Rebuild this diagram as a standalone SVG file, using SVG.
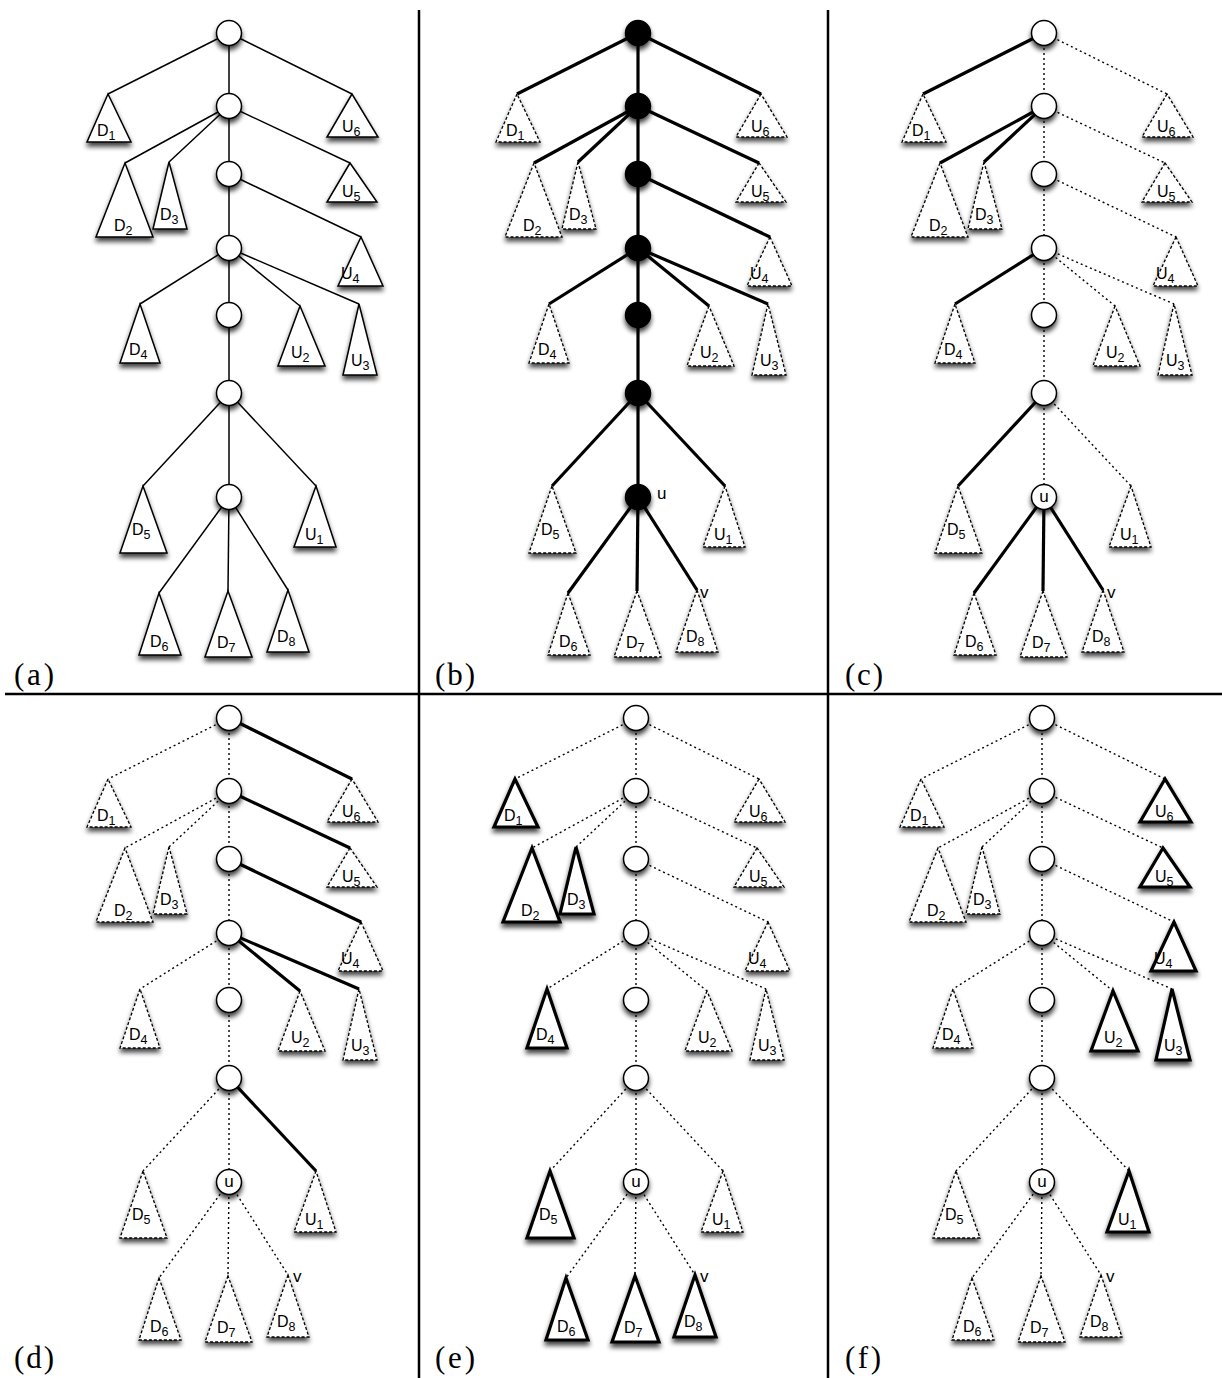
<svg xmlns="http://www.w3.org/2000/svg" width="1222" height="1378" viewBox="0 0 1222 1378">
<defs>
<filter id="sh" x="-40%" y="-40%" width="180%" height="190%">
<feGaussianBlur in="SourceAlpha" stdDeviation="2.5"/>
<feOffset dy="4" result="o"/>
<feComponentTransfer><feFuncA type="linear" slope="0.75"/></feComponentTransfer>
<feMerge><feMergeNode/><feMergeNode in="SourceGraphic"/></feMerge>
</filter>
</defs>
<style>
line{stroke:#000;fill:none;stroke-linecap:butt}
.t{stroke-width:1.5}
.k{stroke-width:3.2}
.d{stroke-width:1.4;stroke-dasharray:2 3}
.tr{fill:#fff;stroke:#000;stroke-width:1.5}
.trd{fill:#fff;stroke:#000;stroke-width:1.3;stroke-dasharray:3 2}
.trk{fill:#fff;stroke:#000;stroke-width:3.2}
.cw{fill:#fff;stroke:#000;stroke-width:1.5}
.cb{fill:#000;stroke:#000;stroke-width:1.5}
text{font-family:"Liberation Sans",Arial,sans-serif;font-size:16px;fill:#000}
.sb{font-size:12.5px}
.uv{font-size:17px}
.pl{font-family:"Liberation Serif","Times New Roman",serif;font-size:31px}
.dv{stroke:#000;stroke-width:2.5}
</style>
<rect width="1222" height="1378" fill="#fff"/>

<g id="dividers">
<line class="dv" x1="419" y1="10" x2="419" y2="1378"/>
<line class="dv" x1="828" y1="10" x2="828" y2="1378"/>
<line class="dv" x1="5" y1="694" x2="1222" y2="694"/>
</g>

<g id="panel-labels">
<text class="pl" x="14" y="685" textLength="40">(a)</text>
<text class="pl" x="435" y="685" textLength="40">(b)</text>
<text class="pl" x="845" y="685" textLength="38">(c)</text>
<text class="pl" x="14" y="1368" textLength="40">(d)</text>
<text class="pl" x="435" y="1368" textLength="40">(e)</text>
<text class="pl" x="845" y="1368" textLength="36">(f)</text>
</g>

<!-- Panel (a) -->
<g id="panel-a">
<g id="a-connectors">
<line class="t" x1="229" y1="33" x2="229" y2="106"/>
<line class="t" x1="229" y1="33" x2="108" y2="94"/>
<line class="t" x1="229" y1="33" x2="352" y2="94"/>
<line class="t" x1="229" y1="106" x2="229" y2="174"/>
<line class="t" x1="229" y1="106" x2="125" y2="163"/>
<line class="t" x1="229" y1="106" x2="169" y2="162"/>
<line class="t" x1="229" y1="106" x2="350" y2="163"/>
<line class="t" x1="229" y1="174" x2="229" y2="248"/>
<line class="t" x1="229" y1="174" x2="361" y2="237"/>
<line class="t" x1="229" y1="248" x2="229" y2="315"/>
<line class="t" x1="229" y1="248" x2="140" y2="304"/>
<line class="t" x1="229" y1="248" x2="300" y2="306"/>
<line class="t" x1="229" y1="248" x2="359" y2="304"/>
<line class="t" x1="229" y1="315" x2="229" y2="393"/>
<line class="t" x1="229" y1="393" x2="229" y2="497"/>
<line class="t" x1="229" y1="393" x2="143" y2="486"/>
<line class="t" x1="229" y1="393" x2="316" y2="486"/>
<line class="t" x1="229" y1="497" x2="159" y2="593"/>
<line class="t" x1="229" y1="497" x2="228" y2="591"/>
<line class="t" x1="229" y1="497" x2="288" y2="590"/>
</g>
<g id="a-D1"><polygon class="tr" filter="url(#sh)" points="108,94 87,142 131,142"/><text x="97" y="136">D<tspan class="sb" dy="4">1</tspan></text></g>
<g id="a-D2"><polygon class="tr" filter="url(#sh)" points="125,163 96,237 153,237"/><text x="114" y="231">D<tspan class="sb" dy="4">2</tspan></text></g>
<g id="a-D3"><polygon class="tr" filter="url(#sh)" points="169,162 153,229 187,229"/><text x="160" y="220">D<tspan class="sb" dy="4">3</tspan></text></g>
<g id="a-D4"><polygon class="tr" filter="url(#sh)" points="140,304 120,363 160,363"/><text x="129" y="355">D<tspan class="sb" dy="4">4</tspan></text></g>
<g id="a-D5"><polygon class="tr" filter="url(#sh)" points="143,486 120,553 167,553"/><text x="132" y="535">D<tspan class="sb" dy="4">5</tspan></text></g>
<g id="a-D6"><polygon class="tr" filter="url(#sh)" points="159,593 139,655 181,655"/><text x="150" y="647">D<tspan class="sb" dy="4">6</tspan></text></g>
<g id="a-D7"><polygon class="tr" filter="url(#sh)" points="228,591 205,657 252,657"/><text x="217" y="648">D<tspan class="sb" dy="4">7</tspan></text></g>
<g id="a-D8"><polygon class="tr" filter="url(#sh)" points="288,590 267,652 309,652"/><text x="277" y="642">D<tspan class="sb" dy="4">8</tspan></text></g>
<g id="a-U1"><polygon class="tr" filter="url(#sh)" points="316,486 294,547 336,547"/><text x="305" y="540">U<tspan class="sb" dy="4">1</tspan></text></g>
<g id="a-U2"><polygon class="tr" filter="url(#sh)" points="300,306 278,366 325,366"/><text x="291" y="358">U<tspan class="sb" dy="4">2</tspan></text></g>
<g id="a-U3"><polygon class="tr" filter="url(#sh)" points="359,304 343,375 377,375"/><text x="351" y="366">U<tspan class="sb" dy="4">3</tspan></text></g>
<g id="a-U4"><polygon class="tr" filter="url(#sh)" points="361,237 338,286 383,286"/><text x="341" y="279">U<tspan class="sb" dy="4">4</tspan></text></g>
<g id="a-U5"><polygon class="tr" filter="url(#sh)" points="350,163 327,202 377,202"/><text x="342" y="197">U<tspan class="sb" dy="4">5</tspan></text></g>
<g id="a-U6"><polygon class="tr" filter="url(#sh)" points="352,94 327,137 378,137"/><text x="342" y="132">U<tspan class="sb" dy="4">6</tspan></text></g>
<g id="a-n1"><circle class="cw" filter="url(#sh)" cx="229" cy="33" r="12.5"/></g>
<g id="a-n2"><circle class="cw" filter="url(#sh)" cx="229" cy="106" r="12.5"/></g>
<g id="a-n3"><circle class="cw" filter="url(#sh)" cx="229" cy="174" r="12.5"/></g>
<g id="a-n4"><circle class="cw" filter="url(#sh)" cx="229" cy="248" r="12.5"/></g>
<g id="a-n5"><circle class="cw" filter="url(#sh)" cx="229" cy="315" r="12.5"/></g>
<g id="a-n6"><circle class="cw" filter="url(#sh)" cx="229" cy="393" r="12.5"/></g>
<g id="a-n7"><circle class="cw" filter="url(#sh)" cx="229" cy="497" r="12.5"/></g>
</g>

<!-- Panel (b) -->
<g id="panel-b" transform="translate(409,0)">
<g id="b-connectors">
<line class="k" x1="229" y1="33" x2="229" y2="106"/>
<line class="k" x1="229" y1="33" x2="108" y2="94"/>
<line class="k" x1="229" y1="33" x2="352" y2="94"/>
<line class="k" x1="229" y1="106" x2="229" y2="174"/>
<line class="k" x1="229" y1="106" x2="125" y2="163"/>
<line class="k" x1="229" y1="106" x2="169" y2="162"/>
<line class="k" x1="229" y1="106" x2="350" y2="163"/>
<line class="k" x1="229" y1="174" x2="229" y2="248"/>
<line class="k" x1="229" y1="174" x2="361" y2="237"/>
<line class="k" x1="229" y1="248" x2="229" y2="315"/>
<line class="k" x1="229" y1="248" x2="140" y2="304"/>
<line class="k" x1="229" y1="248" x2="300" y2="306"/>
<line class="k" x1="229" y1="248" x2="359" y2="304"/>
<line class="k" x1="229" y1="315" x2="229" y2="393"/>
<line class="k" x1="229" y1="393" x2="229" y2="497"/>
<line class="k" x1="229" y1="393" x2="143" y2="486"/>
<line class="k" x1="229" y1="393" x2="316" y2="486"/>
<line class="k" x1="229" y1="497" x2="159" y2="593"/>
<line class="k" x1="229" y1="497" x2="228" y2="591"/>
<line class="k" x1="229" y1="497" x2="288" y2="590"/>
</g>
<g id="b-D1"><polygon class="trd" filter="url(#sh)" points="108,94 87,142 131,142"/><text x="97" y="136">D<tspan class="sb" dy="4">1</tspan></text></g>
<g id="b-D2"><polygon class="trd" filter="url(#sh)" points="125,163 96,237 153,237"/><text x="114" y="231">D<tspan class="sb" dy="4">2</tspan></text></g>
<g id="b-D3"><polygon class="trd" filter="url(#sh)" points="169,162 153,229 187,229"/><text x="160" y="220">D<tspan class="sb" dy="4">3</tspan></text></g>
<g id="b-D4"><polygon class="trd" filter="url(#sh)" points="140,304 120,363 160,363"/><text x="129" y="355">D<tspan class="sb" dy="4">4</tspan></text></g>
<g id="b-D5"><polygon class="trd" filter="url(#sh)" points="143,486 120,553 167,553"/><text x="132" y="535">D<tspan class="sb" dy="4">5</tspan></text></g>
<g id="b-D6"><polygon class="trd" filter="url(#sh)" points="159,593 139,655 181,655"/><text x="150" y="647">D<tspan class="sb" dy="4">6</tspan></text></g>
<g id="b-D7"><polygon class="trd" filter="url(#sh)" points="228,591 205,657 252,657"/><text x="217" y="648">D<tspan class="sb" dy="4">7</tspan></text></g>
<g id="b-D8"><polygon class="trd" filter="url(#sh)" points="288,590 267,652 309,652"/><text x="277" y="642">D<tspan class="sb" dy="4">8</tspan></text></g>
<g id="b-U1"><polygon class="trd" filter="url(#sh)" points="316,486 294,547 336,547"/><text x="305" y="540">U<tspan class="sb" dy="4">1</tspan></text></g>
<g id="b-U2"><polygon class="trd" filter="url(#sh)" points="300,306 278,366 325,366"/><text x="291" y="358">U<tspan class="sb" dy="4">2</tspan></text></g>
<g id="b-U3"><polygon class="trd" filter="url(#sh)" points="359,304 343,375 377,375"/><text x="351" y="366">U<tspan class="sb" dy="4">3</tspan></text></g>
<g id="b-U4"><polygon class="trd" filter="url(#sh)" points="361,237 338,286 383,286"/><text x="341" y="279">U<tspan class="sb" dy="4">4</tspan></text></g>
<g id="b-U5"><polygon class="trd" filter="url(#sh)" points="350,163 327,202 377,202"/><text x="342" y="197">U<tspan class="sb" dy="4">5</tspan></text></g>
<g id="b-U6"><polygon class="trd" filter="url(#sh)" points="352,94 327,137 378,137"/><text x="342" y="132">U<tspan class="sb" dy="4">6</tspan></text></g>
<g id="b-n1"><circle class="cb" filter="url(#sh)" cx="229" cy="33" r="12.5"/></g>
<g id="b-n2"><circle class="cb" filter="url(#sh)" cx="229" cy="106" r="12.5"/></g>
<g id="b-n3"><circle class="cb" filter="url(#sh)" cx="229" cy="174" r="12.5"/></g>
<g id="b-n4"><circle class="cb" filter="url(#sh)" cx="229" cy="248" r="12.5"/></g>
<g id="b-n5"><circle class="cb" filter="url(#sh)" cx="229" cy="315" r="12.5"/></g>
<g id="b-n6"><circle class="cb" filter="url(#sh)" cx="229" cy="393" r="12.5"/></g>
<g id="b-n7"><circle class="cb" filter="url(#sh)" cx="229" cy="497" r="12.5"/><text class="uv" x="248" y="499">u</text></g>
<g id="b-v"><text class="uv" x="291" y="598">v</text></g>
</g>

<!-- Panel (c) -->
<g id="panel-c" transform="translate(815,0)">
<g id="c-connectors">
<line class="d" x1="229" y1="33" x2="229" y2="106"/>
<line class="k" x1="229" y1="33" x2="108" y2="94"/>
<line class="d" x1="229" y1="33" x2="352" y2="94"/>
<line class="d" x1="229" y1="106" x2="229" y2="174"/>
<line class="k" x1="229" y1="106" x2="125" y2="163"/>
<line class="k" x1="229" y1="106" x2="169" y2="162"/>
<line class="d" x1="229" y1="106" x2="350" y2="163"/>
<line class="d" x1="229" y1="174" x2="229" y2="248"/>
<line class="d" x1="229" y1="174" x2="361" y2="237"/>
<line class="d" x1="229" y1="248" x2="229" y2="315"/>
<line class="k" x1="229" y1="248" x2="140" y2="304"/>
<line class="d" x1="229" y1="248" x2="300" y2="306"/>
<line class="d" x1="229" y1="248" x2="359" y2="304"/>
<line class="d" x1="229" y1="315" x2="229" y2="393"/>
<line class="d" x1="229" y1="393" x2="229" y2="497"/>
<line class="k" x1="229" y1="393" x2="143" y2="486"/>
<line class="d" x1="229" y1="393" x2="316" y2="486"/>
<line class="k" x1="229" y1="497" x2="159" y2="593"/>
<line class="k" x1="229" y1="497" x2="228" y2="591"/>
<line class="k" x1="229" y1="497" x2="288" y2="590"/>
</g>
<g id="c-D1"><polygon class="trd" filter="url(#sh)" points="108,94 87,142 131,142"/><text x="97" y="136">D<tspan class="sb" dy="4">1</tspan></text></g>
<g id="c-D2"><polygon class="trd" filter="url(#sh)" points="125,163 96,237 153,237"/><text x="114" y="231">D<tspan class="sb" dy="4">2</tspan></text></g>
<g id="c-D3"><polygon class="trd" filter="url(#sh)" points="169,162 153,229 187,229"/><text x="160" y="220">D<tspan class="sb" dy="4">3</tspan></text></g>
<g id="c-D4"><polygon class="trd" filter="url(#sh)" points="140,304 120,363 160,363"/><text x="129" y="355">D<tspan class="sb" dy="4">4</tspan></text></g>
<g id="c-D5"><polygon class="trd" filter="url(#sh)" points="143,486 120,553 167,553"/><text x="132" y="535">D<tspan class="sb" dy="4">5</tspan></text></g>
<g id="c-D6"><polygon class="trd" filter="url(#sh)" points="159,593 139,655 181,655"/><text x="150" y="647">D<tspan class="sb" dy="4">6</tspan></text></g>
<g id="c-D7"><polygon class="trd" filter="url(#sh)" points="228,591 205,657 252,657"/><text x="217" y="648">D<tspan class="sb" dy="4">7</tspan></text></g>
<g id="c-D8"><polygon class="trd" filter="url(#sh)" points="288,590 267,652 309,652"/><text x="277" y="642">D<tspan class="sb" dy="4">8</tspan></text></g>
<g id="c-U1"><polygon class="trd" filter="url(#sh)" points="316,486 294,547 336,547"/><text x="305" y="540">U<tspan class="sb" dy="4">1</tspan></text></g>
<g id="c-U2"><polygon class="trd" filter="url(#sh)" points="300,306 278,366 325,366"/><text x="291" y="358">U<tspan class="sb" dy="4">2</tspan></text></g>
<g id="c-U3"><polygon class="trd" filter="url(#sh)" points="359,304 343,375 377,375"/><text x="351" y="366">U<tspan class="sb" dy="4">3</tspan></text></g>
<g id="c-U4"><polygon class="trd" filter="url(#sh)" points="361,237 338,286 383,286"/><text x="341" y="279">U<tspan class="sb" dy="4">4</tspan></text></g>
<g id="c-U5"><polygon class="trd" filter="url(#sh)" points="350,163 327,202 377,202"/><text x="342" y="197">U<tspan class="sb" dy="4">5</tspan></text></g>
<g id="c-U6"><polygon class="trd" filter="url(#sh)" points="352,94 327,137 378,137"/><text x="342" y="132">U<tspan class="sb" dy="4">6</tspan></text></g>
<g id="c-n1"><circle class="cw" filter="url(#sh)" cx="229" cy="33" r="12.5"/></g>
<g id="c-n2"><circle class="cw" filter="url(#sh)" cx="229" cy="106" r="12.5"/></g>
<g id="c-n3"><circle class="cw" filter="url(#sh)" cx="229" cy="174" r="12.5"/></g>
<g id="c-n4"><circle class="cw" filter="url(#sh)" cx="229" cy="248" r="12.5"/></g>
<g id="c-n5"><circle class="cw" filter="url(#sh)" cx="229" cy="315" r="12.5"/></g>
<g id="c-n6"><circle class="cw" filter="url(#sh)" cx="229" cy="393" r="12.5"/></g>
<g id="c-n7"><circle class="cw" filter="url(#sh)" cx="229" cy="497" r="12.5"/><text class="uv" x="229" y="502" text-anchor="middle">u</text></g>
<g id="c-v"><text class="uv" x="292" y="598">v</text></g>
</g>

<!-- Panel (d) -->
<g id="panel-d" transform="translate(0,685)">
<g id="d-connectors">
<line class="d" x1="229" y1="33" x2="229" y2="106"/>
<line class="d" x1="229" y1="33" x2="108" y2="94"/>
<line class="k" x1="229" y1="33" x2="352" y2="94"/>
<line class="d" x1="229" y1="106" x2="229" y2="174"/>
<line class="d" x1="229" y1="106" x2="125" y2="163"/>
<line class="d" x1="229" y1="106" x2="169" y2="162"/>
<line class="k" x1="229" y1="106" x2="350" y2="163"/>
<line class="d" x1="229" y1="174" x2="229" y2="248"/>
<line class="k" x1="229" y1="174" x2="361" y2="237"/>
<line class="d" x1="229" y1="248" x2="229" y2="315"/>
<line class="d" x1="229" y1="248" x2="140" y2="304"/>
<line class="k" x1="229" y1="248" x2="300" y2="306"/>
<line class="k" x1="229" y1="248" x2="359" y2="304"/>
<line class="d" x1="229" y1="315" x2="229" y2="393"/>
<line class="d" x1="229" y1="393" x2="229" y2="497"/>
<line class="d" x1="229" y1="393" x2="143" y2="486"/>
<line class="k" x1="229" y1="393" x2="316" y2="486"/>
<line class="d" x1="229" y1="497" x2="159" y2="593"/>
<line class="d" x1="229" y1="497" x2="228" y2="591"/>
<line class="d" x1="229" y1="497" x2="288" y2="590"/>
</g>
<g id="d-D1"><polygon class="trd" filter="url(#sh)" points="108,94 87,142 131,142"/><text x="97" y="136">D<tspan class="sb" dy="4">1</tspan></text></g>
<g id="d-D2"><polygon class="trd" filter="url(#sh)" points="125,163 96,237 153,237"/><text x="114" y="231">D<tspan class="sb" dy="4">2</tspan></text></g>
<g id="d-D3"><polygon class="trd" filter="url(#sh)" points="169,162 153,229 187,229"/><text x="160" y="220">D<tspan class="sb" dy="4">3</tspan></text></g>
<g id="d-D4"><polygon class="trd" filter="url(#sh)" points="140,304 120,363 160,363"/><text x="129" y="355">D<tspan class="sb" dy="4">4</tspan></text></g>
<g id="d-D5"><polygon class="trd" filter="url(#sh)" points="143,486 120,553 167,553"/><text x="132" y="535">D<tspan class="sb" dy="4">5</tspan></text></g>
<g id="d-D6"><polygon class="trd" filter="url(#sh)" points="159,593 139,655 181,655"/><text x="150" y="647">D<tspan class="sb" dy="4">6</tspan></text></g>
<g id="d-D7"><polygon class="trd" filter="url(#sh)" points="228,591 205,657 252,657"/><text x="217" y="648">D<tspan class="sb" dy="4">7</tspan></text></g>
<g id="d-D8"><polygon class="trd" filter="url(#sh)" points="288,590 267,652 309,652"/><text x="277" y="642">D<tspan class="sb" dy="4">8</tspan></text></g>
<g id="d-U1"><polygon class="trd" filter="url(#sh)" points="316,486 294,547 336,547"/><text x="305" y="540">U<tspan class="sb" dy="4">1</tspan></text></g>
<g id="d-U2"><polygon class="trd" filter="url(#sh)" points="300,306 278,366 325,366"/><text x="291" y="358">U<tspan class="sb" dy="4">2</tspan></text></g>
<g id="d-U3"><polygon class="trd" filter="url(#sh)" points="359,304 343,375 377,375"/><text x="351" y="366">U<tspan class="sb" dy="4">3</tspan></text></g>
<g id="d-U4"><polygon class="trd" filter="url(#sh)" points="361,237 338,286 383,286"/><text x="341" y="279">U<tspan class="sb" dy="4">4</tspan></text></g>
<g id="d-U5"><polygon class="trd" filter="url(#sh)" points="350,163 327,202 377,202"/><text x="342" y="197">U<tspan class="sb" dy="4">5</tspan></text></g>
<g id="d-U6"><polygon class="trd" filter="url(#sh)" points="352,94 327,137 378,137"/><text x="342" y="132">U<tspan class="sb" dy="4">6</tspan></text></g>
<g id="d-n1"><circle class="cw" filter="url(#sh)" cx="229" cy="33" r="12.5"/></g>
<g id="d-n2"><circle class="cw" filter="url(#sh)" cx="229" cy="106" r="12.5"/></g>
<g id="d-n3"><circle class="cw" filter="url(#sh)" cx="229" cy="174" r="12.5"/></g>
<g id="d-n4"><circle class="cw" filter="url(#sh)" cx="229" cy="248" r="12.5"/></g>
<g id="d-n5"><circle class="cw" filter="url(#sh)" cx="229" cy="315" r="12.5"/></g>
<g id="d-n6"><circle class="cw" filter="url(#sh)" cx="229" cy="393" r="12.5"/></g>
<g id="d-n7"><circle class="cw" filter="url(#sh)" cx="229" cy="497" r="12.5"/><text class="uv" x="229" y="502" text-anchor="middle">u</text></g>
<g id="d-v"><text class="uv" x="293" y="597">v</text></g>
</g>

<!-- Panel (e) -->
<g id="panel-e" transform="translate(407,685)">
<g id="e-connectors">
<line class="d" x1="229" y1="33" x2="229" y2="106"/>
<line class="d" x1="229" y1="33" x2="108" y2="94"/>
<line class="d" x1="229" y1="33" x2="352" y2="94"/>
<line class="d" x1="229" y1="106" x2="229" y2="174"/>
<line class="d" x1="229" y1="106" x2="125" y2="163"/>
<line class="d" x1="229" y1="106" x2="169" y2="162"/>
<line class="d" x1="229" y1="106" x2="350" y2="163"/>
<line class="d" x1="229" y1="174" x2="229" y2="248"/>
<line class="d" x1="229" y1="174" x2="361" y2="237"/>
<line class="d" x1="229" y1="248" x2="229" y2="315"/>
<line class="d" x1="229" y1="248" x2="140" y2="304"/>
<line class="d" x1="229" y1="248" x2="300" y2="306"/>
<line class="d" x1="229" y1="248" x2="359" y2="304"/>
<line class="d" x1="229" y1="315" x2="229" y2="393"/>
<line class="d" x1="229" y1="393" x2="229" y2="497"/>
<line class="d" x1="229" y1="393" x2="143" y2="486"/>
<line class="d" x1="229" y1="393" x2="316" y2="486"/>
<line class="d" x1="229" y1="497" x2="159" y2="593"/>
<line class="d" x1="229" y1="497" x2="228" y2="591"/>
<line class="d" x1="229" y1="497" x2="288" y2="590"/>
</g>
<g id="e-D1"><polygon class="trk" filter="url(#sh)" points="108,94 87,142 131,142"/><text x="97" y="136">D<tspan class="sb" dy="4">1</tspan></text></g>
<g id="e-D2"><polygon class="trk" filter="url(#sh)" points="125,163 96,237 153,237"/><text x="114" y="231">D<tspan class="sb" dy="4">2</tspan></text></g>
<g id="e-D3"><polygon class="trk" filter="url(#sh)" points="169,162 153,229 187,229"/><text x="160" y="220">D<tspan class="sb" dy="4">3</tspan></text></g>
<g id="e-D4"><polygon class="trk" filter="url(#sh)" points="140,304 120,363 160,363"/><text x="129" y="355">D<tspan class="sb" dy="4">4</tspan></text></g>
<g id="e-D5"><polygon class="trk" filter="url(#sh)" points="143,486 120,553 167,553"/><text x="132" y="535">D<tspan class="sb" dy="4">5</tspan></text></g>
<g id="e-D6"><polygon class="trk" filter="url(#sh)" points="159,593 139,655 181,655"/><text x="150" y="647">D<tspan class="sb" dy="4">6</tspan></text></g>
<g id="e-D7"><polygon class="trk" filter="url(#sh)" points="228,591 205,657 252,657"/><text x="217" y="648">D<tspan class="sb" dy="4">7</tspan></text></g>
<g id="e-D8"><polygon class="trk" filter="url(#sh)" points="288,590 267,652 309,652"/><text x="277" y="642">D<tspan class="sb" dy="4">8</tspan></text></g>
<g id="e-U1"><polygon class="trd" filter="url(#sh)" points="316,486 294,547 336,547"/><text x="305" y="540">U<tspan class="sb" dy="4">1</tspan></text></g>
<g id="e-U2"><polygon class="trd" filter="url(#sh)" points="300,306 278,366 325,366"/><text x="291" y="358">U<tspan class="sb" dy="4">2</tspan></text></g>
<g id="e-U3"><polygon class="trd" filter="url(#sh)" points="359,304 343,375 377,375"/><text x="351" y="366">U<tspan class="sb" dy="4">3</tspan></text></g>
<g id="e-U4"><polygon class="trd" filter="url(#sh)" points="361,237 338,286 383,286"/><text x="341" y="279">U<tspan class="sb" dy="4">4</tspan></text></g>
<g id="e-U5"><polygon class="trd" filter="url(#sh)" points="350,163 327,202 377,202"/><text x="342" y="197">U<tspan class="sb" dy="4">5</tspan></text></g>
<g id="e-U6"><polygon class="trd" filter="url(#sh)" points="352,94 327,137 378,137"/><text x="342" y="132">U<tspan class="sb" dy="4">6</tspan></text></g>
<g id="e-n1"><circle class="cw" filter="url(#sh)" cx="229" cy="33" r="12.5"/></g>
<g id="e-n2"><circle class="cw" filter="url(#sh)" cx="229" cy="106" r="12.5"/></g>
<g id="e-n3"><circle class="cw" filter="url(#sh)" cx="229" cy="174" r="12.5"/></g>
<g id="e-n4"><circle class="cw" filter="url(#sh)" cx="229" cy="248" r="12.5"/></g>
<g id="e-n5"><circle class="cw" filter="url(#sh)" cx="229" cy="315" r="12.5"/></g>
<g id="e-n6"><circle class="cw" filter="url(#sh)" cx="229" cy="393" r="12.5"/></g>
<g id="e-n7"><circle class="cw" filter="url(#sh)" cx="229" cy="497" r="12.5"/><text class="uv" x="229" y="502" text-anchor="middle">u</text></g>
<g id="e-v"><text class="uv" x="293" y="597">v</text></g>
</g>

<!-- Panel (f) -->
<g id="panel-f" transform="translate(813,685)">
<g id="f-connectors">
<line class="d" x1="229" y1="33" x2="229" y2="106"/>
<line class="d" x1="229" y1="33" x2="108" y2="94"/>
<line class="d" x1="229" y1="33" x2="352" y2="94"/>
<line class="d" x1="229" y1="106" x2="229" y2="174"/>
<line class="d" x1="229" y1="106" x2="125" y2="163"/>
<line class="d" x1="229" y1="106" x2="169" y2="162"/>
<line class="d" x1="229" y1="106" x2="350" y2="163"/>
<line class="d" x1="229" y1="174" x2="229" y2="248"/>
<line class="d" x1="229" y1="174" x2="361" y2="237"/>
<line class="d" x1="229" y1="248" x2="229" y2="315"/>
<line class="d" x1="229" y1="248" x2="140" y2="304"/>
<line class="d" x1="229" y1="248" x2="300" y2="306"/>
<line class="d" x1="229" y1="248" x2="359" y2="304"/>
<line class="d" x1="229" y1="315" x2="229" y2="393"/>
<line class="d" x1="229" y1="393" x2="229" y2="497"/>
<line class="d" x1="229" y1="393" x2="143" y2="486"/>
<line class="d" x1="229" y1="393" x2="316" y2="486"/>
<line class="d" x1="229" y1="497" x2="159" y2="593"/>
<line class="d" x1="229" y1="497" x2="228" y2="591"/>
<line class="d" x1="229" y1="497" x2="288" y2="590"/>
</g>
<g id="f-D1"><polygon class="trd" filter="url(#sh)" points="108,94 87,142 131,142"/><text x="97" y="136">D<tspan class="sb" dy="4">1</tspan></text></g>
<g id="f-D2"><polygon class="trd" filter="url(#sh)" points="125,163 96,237 153,237"/><text x="114" y="231">D<tspan class="sb" dy="4">2</tspan></text></g>
<g id="f-D3"><polygon class="trd" filter="url(#sh)" points="169,162 153,229 187,229"/><text x="160" y="220">D<tspan class="sb" dy="4">3</tspan></text></g>
<g id="f-D4"><polygon class="trd" filter="url(#sh)" points="140,304 120,363 160,363"/><text x="129" y="355">D<tspan class="sb" dy="4">4</tspan></text></g>
<g id="f-D5"><polygon class="trd" filter="url(#sh)" points="143,486 120,553 167,553"/><text x="132" y="535">D<tspan class="sb" dy="4">5</tspan></text></g>
<g id="f-D6"><polygon class="trd" filter="url(#sh)" points="159,593 139,655 181,655"/><text x="150" y="647">D<tspan class="sb" dy="4">6</tspan></text></g>
<g id="f-D7"><polygon class="trd" filter="url(#sh)" points="228,591 205,657 252,657"/><text x="217" y="648">D<tspan class="sb" dy="4">7</tspan></text></g>
<g id="f-D8"><polygon class="trd" filter="url(#sh)" points="288,590 267,652 309,652"/><text x="277" y="642">D<tspan class="sb" dy="4">8</tspan></text></g>
<g id="f-U1"><polygon class="trk" filter="url(#sh)" points="316,486 294,547 336,547"/><text x="305" y="540">U<tspan class="sb" dy="4">1</tspan></text></g>
<g id="f-U2"><polygon class="trk" filter="url(#sh)" points="300,306 278,366 325,366"/><text x="291" y="358">U<tspan class="sb" dy="4">2</tspan></text></g>
<g id="f-U3"><polygon class="trk" filter="url(#sh)" points="359,304 343,375 377,375"/><text x="351" y="366">U<tspan class="sb" dy="4">3</tspan></text></g>
<g id="f-U4"><polygon class="trk" filter="url(#sh)" points="361,237 338,286 383,286"/><text x="341" y="279">U<tspan class="sb" dy="4">4</tspan></text></g>
<g id="f-U5"><polygon class="trk" filter="url(#sh)" points="350,163 327,202 377,202"/><text x="342" y="197">U<tspan class="sb" dy="4">5</tspan></text></g>
<g id="f-U6"><polygon class="trk" filter="url(#sh)" points="352,94 327,137 378,137"/><text x="342" y="132">U<tspan class="sb" dy="4">6</tspan></text></g>
<g id="f-n1"><circle class="cw" filter="url(#sh)" cx="229" cy="33" r="12.5"/></g>
<g id="f-n2"><circle class="cw" filter="url(#sh)" cx="229" cy="106" r="12.5"/></g>
<g id="f-n3"><circle class="cw" filter="url(#sh)" cx="229" cy="174" r="12.5"/></g>
<g id="f-n4"><circle class="cw" filter="url(#sh)" cx="229" cy="248" r="12.5"/></g>
<g id="f-n5"><circle class="cw" filter="url(#sh)" cx="229" cy="315" r="12.5"/></g>
<g id="f-n6"><circle class="cw" filter="url(#sh)" cx="229" cy="393" r="12.5"/></g>
<g id="f-n7"><circle class="cw" filter="url(#sh)" cx="229" cy="497" r="12.5"/><text class="uv" x="229" y="502" text-anchor="middle">u</text></g>
<g id="f-v"><text class="uv" x="293" y="597">v</text></g>
</g>
</svg>
